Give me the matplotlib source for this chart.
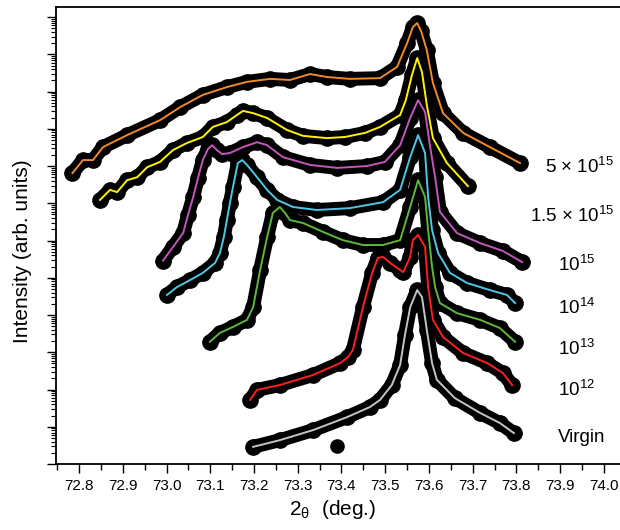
import matplotlib
matplotlib.use('Agg')
import matplotlib.pyplot as plt
import numpy as np
from matplotlib.ticker import LogLocator, NullFormatter, MultipleLocator

plt.rcParams['font.family'] = ['Liberation Sans', 'DejaVu Sans']
plt.rcParams['mathtext.fontset'] = 'custom'
plt.rcParams['mathtext.rm'] = 'Liberation Sans'
plt.rcParams['mathtext.it'] = 'Liberation Sans:italic'
plt.rcParams['mathtext.default'] = 'regular'

# 2theta (deg.) and log10 of intensity (arb. units, curves stacked)
tth_5e15 = [72.785, 72.809, 72.832, 72.855, 72.910, 72.985, 73.031, 73.083, 73.138,
            73.184, 73.237, 73.282, 73.328, 73.367, 73.419, 73.488, 73.527, 73.550,
            73.563, 73.573, 73.582, 73.595, 73.609, 73.632, 73.678, 73.739, 73.808]
logI_5e15 = [7.81, 8.16, 8.16, 8.51, 8.83, 9.23, 9.58, 9.91, 10.12,
             10.26, 10.34, 10.31, 10.47, 10.39, 10.34, 10.36, 10.66, 11.30,
             11.73, 11.84, 11.62, 11.11, 10.23, 9.42, 8.89, 8.51, 8.08]

tth_1p5e15 = [72.848, 72.871, 72.887, 72.910, 72.933, 72.956, 72.985, 73.015, 73.047,
              73.083, 73.106, 73.138, 73.161, 73.175, 73.198, 73.230, 73.275, 73.312,
              73.367, 73.408, 73.454, 73.488, 73.534, 73.547, 73.561, 73.573, 73.584,
              73.595, 73.609, 73.641, 73.689]
logI_1p5e15 = [7.09, 7.36, 7.30, 7.62, 7.70, 7.97, 8.11, 8.43, 8.62,
               8.78, 9.05, 9.18, 9.37, 9.48, 9.42, 9.29, 8.97, 8.81,
               8.75, 8.78, 8.89, 9.05, 9.37, 9.77, 10.44, 10.90, 10.52,
               9.64, 8.75, 8.08, 7.46]

tth_1e15 = [72.992, 73.015, 73.038, 73.049, 73.061, 73.072, 73.083, 73.095, 73.104,
            73.115, 73.127, 73.145, 73.175, 73.207, 73.230, 73.266, 73.328, 73.390,
            73.458, 73.499, 73.534, 73.557, 73.575, 73.591, 73.602, 73.614, 73.625,
            73.664, 73.717, 73.769, 73.813]
logI_1e15 = [5.46, 5.83, 6.20, 6.68, 7.17, 7.68, 8.16, 8.46, 8.56,
             8.43, 8.32, 8.35, 8.51, 8.64, 8.56, 8.24, 8.03, 7.95,
             8.00, 8.11, 8.56, 9.29, 9.77, 9.45, 8.56, 7.70, 6.77,
             6.20, 5.93, 5.72, 5.42]

tth_1e14 = [73.001, 73.024, 73.054, 73.083, 73.111, 73.122, 73.131, 73.138, 73.145,
            73.152, 73.163, 73.173, 73.184, 73.207, 73.230, 73.253, 73.289, 73.344,
            73.419, 73.495, 73.534, 73.557, 73.575, 73.591, 73.598, 73.607, 73.621,
            73.648, 73.687, 73.739, 73.778, 73.797]
logI_1e14 = [4.54, 4.75, 4.94, 5.13, 5.40, 5.66, 6.09, 6.55, 7.01,
             7.44, 8.08, 8.16, 8.03, 7.70, 7.36, 7.09, 6.90, 6.82,
             6.87, 7.03, 7.36, 8.24, 8.83, 8.35, 7.17, 6.28, 5.66,
             5.13, 4.86, 4.67, 4.54, 4.32]

tth_1e13 = [73.099, 73.122, 73.152, 73.184, 73.198, 73.214, 73.230, 73.243, 73.259,
            73.271, 73.282, 73.312, 73.358, 73.403, 73.449, 73.495, 73.534, 73.557,
            73.575, 73.591, 73.598, 73.607, 73.614, 73.625, 73.664, 73.717, 73.762,
            73.797]
logI_1e13 = [3.28, 3.52, 3.68, 3.87, 4.21, 5.21, 6.09, 6.74, 6.90,
             6.74, 6.55, 6.47, 6.23, 6.01, 5.88, 5.88, 6.01, 6.90,
             7.62, 7.17, 6.28, 5.29, 4.75, 4.32, 4.05, 3.87, 3.65,
             3.28]

tth_1e12 = [73.191, 73.207, 73.259, 73.335, 73.397, 73.415, 73.426, 73.449, 73.470,
            73.483, 73.495, 73.511, 73.534, 73.541, 73.557, 73.563, 73.575, 73.591,
            73.598, 73.609, 73.632, 73.678, 73.733, 73.769, 73.790]
logI_1e12 = [1.72, 1.99, 2.12, 2.39, 2.71, 2.87, 3.06, 4.21, 5.13,
             5.53, 5.56, 5.40, 5.21, 5.15, 5.56, 6.01, 6.15, 5.83,
             4.75, 3.87, 3.41, 2.98, 2.71, 2.44, 2.12]

tth_virgin = [73.198, 73.259, 73.335, 73.413, 73.465, 73.488, 73.515, 73.534, 73.545,
              73.557, 73.573, 73.584, 73.595, 73.607, 73.618, 73.659, 73.717, 73.762,
              73.794]
logI_virgin = [0.46, 0.64, 0.91, 1.26, 1.53, 1.72, 2.12, 2.66, 3.46,
               4.21, 4.67, 4.48, 3.60, 2.71, 2.26, 1.77, 1.37, 1.10,
               0.83]
# stray point below the virgin pattern
tth_virgin_extra = [73.390]
logI_virgin_extra = [0.48]

fit_colors = ['#ee8a2a', '#fff200', '#c455bc', '#4fc6e4', '#5cb83a', '#ff1e1e', '#c4c4c4']
curve_labels = ['5 × $10^{15}$', '1.5 × $10^{15}$', '$10^{15}$', '$10^{14}$',
                '$10^{13}$', '$10^{12}$', 'Virgin']
label_tth = [73.943, 73.927, 73.938, 73.938, 73.938, 73.938, 73.950]
label_logI = [7.81, 6.50, 5.18, 4.03, 2.93, 1.83, 0.59]

curves = [(tth_5e15, logI_5e15), (tth_1p5e15, logI_1p5e15), (tth_1e15, logI_1e15),
          (tth_1e14, logI_1e14), (tth_1e13, logI_1e13), (tth_1e12, logI_1e12),
          (tth_virgin, logI_virgin)]

fig = plt.figure(figsize=(6.2, 5.3), dpi=100)
ax = fig.add_axes([56 / 620, 66 / 530, 564 / 620, 457 / 530])

# measured data: thick black dotted band
for tth, logI in curves:
    ax.plot(tth, 10 ** np.array(logI), 'o-', color='black', ms=11, lw=10,
            solid_joinstyle='round', solid_capstyle='round', zorder=2)
ax.plot(tth_virgin_extra, 10 ** np.array(logI_virgin_extra), 'o', color='black',
        ms=9.5, zorder=2)

# fits on top
for (tth, logI), color in zip(curves, fit_colors):
    ax.plot(tth, 10 ** np.array(logI), '-', color=color, lw=1.4, zorder=3,
            solid_joinstyle='round')

for text, x, li in zip(curve_labels, label_tth, label_logI):
    ax.text(x, 10 ** li, text, fontsize=13.5, ha='center', va='baseline')

ax.set_yscale('log')
ax.set_xlim(72.7474, 74.0366)
ax.set_ylim(1, 10 ** 12.27)

ax.xaxis.set_major_locator(MultipleLocator(0.1))
ax.xaxis.set_minor_locator(MultipleLocator(0.05))
ax.xaxis.set_major_formatter(plt.FuncFormatter(lambda v, p: '%.1f' % v))
ax.yaxis.set_major_locator(LogLocator(base=10, numticks=30))
ax.yaxis.set_minor_locator(LogLocator(base=10, subs=np.arange(2, 10), numticks=300))
ax.yaxis.set_major_formatter(NullFormatter())
ax.yaxis.set_minor_formatter(NullFormatter())

ax.tick_params(axis='x', which='major', direction='out', length=6.5, width=1, labelsize=11, pad=4)
ax.tick_params(axis='x', which='minor', direction='out', length=4, width=1)
ax.tick_params(axis='y', which='major', direction='out', length=6.5, width=1)
ax.tick_params(axis='y', which='minor', direction='out', length=3.5, width=0.8)
ax.tick_params(top=False, right=False, which='both')

ax.spines['right'].set_visible(False)
for s in ['left', 'bottom', 'top']:
    ax.spines[s].set_linewidth(1.3)

ax.set_ylabel('Intensity (arb. units)', fontsize=15)
ax.yaxis.set_label_coords(-0.0426, 0.466)
ax.set_xlabel(r'2$_{\theta}$  (deg.)', fontsize=15)
ax.xaxis.set_label_coords(0.491, -0.075)

fig.savefig('out.png', dpi=100)
